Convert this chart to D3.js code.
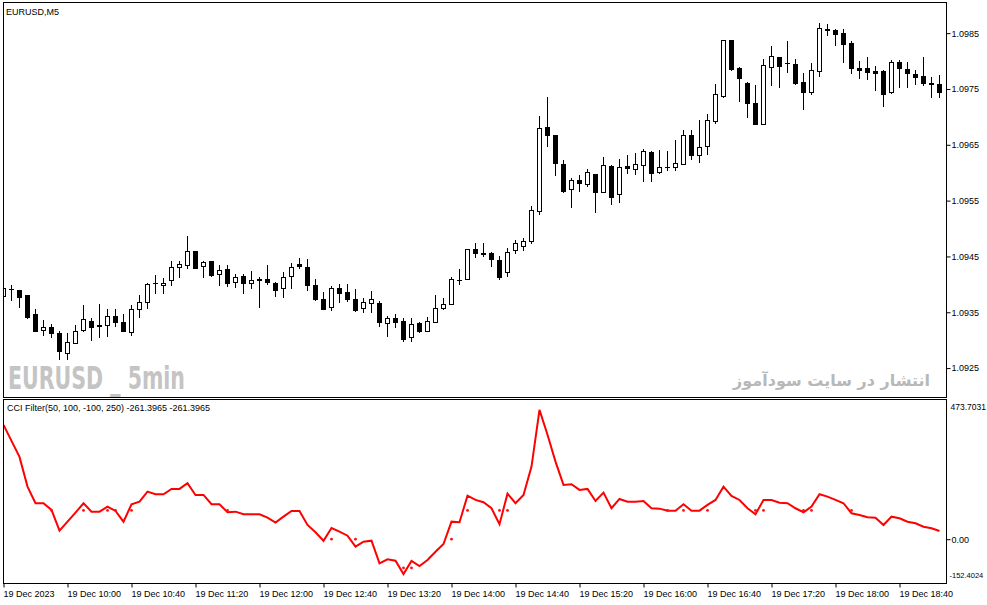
<!DOCTYPE html>
<html>
<head>
<meta charset="utf-8">
<script src="https://cdnjs.cloudflare.com/ajax/libs/d3/7.8.5/d3.min.js"></script>
<style>
  body { margin: 0; background: #fff; }
  svg text { font-family: Tahoma, "Liberation Sans", Arial, sans-serif; font-size: 9px; fill: #000; }
</style>
</head>
<body>
<div id="chart"></div>
<script>
/* EURUSD M5 candles with CCI Filter sub window */

// OHLC per 5 min bar, 19 Dec 2023 09:20 .. 19:05
const openP = [1.09380,1.09392,1.09390,1.09381,1.09346,1.09318,1.09324,1.09312,1.09277,1.09295,
  1.09319,1.09335,1.09327,1.09327,1.09344,1.09333,1.09314,1.09356,1.09369,1.09402,
  1.09399,1.09407,1.09431,1.09434,1.09460,1.09432,1.09442,1.09418,1.09428,1.09405,
  1.09415,1.09402,1.09410,1.09410,1.09403,1.09393,1.09415,1.09436,1.09431,1.09399,
  1.09374,1.09359,1.09394,1.09387,1.09374,1.09357,1.09366,1.09367,1.09331,1.09340,
  1.09335,1.09305,1.09331,1.09316,1.09333,1.09357,1.09365,1.09408,1.09409,1.09464,
  1.09457,1.09457,1.09444,1.09423,1.09462,1.09469,1.09478,1.09532,1.09682,1.09668,
  1.09616,1.09571,1.09587,1.09580,1.09598,1.09565,1.09612,1.09562,1.09612,1.09606,
  1.09613,1.09637,1.09602,1.09610,1.09611,1.09615,1.09668,1.09631,1.09647,1.09693,
  1.09738,1.09837,1.09787,1.09760,1.09725,1.09688,1.09790,1.09808,1.09797,1.09794,
  1.09763,1.09744,1.09783,1.09858,1.09856,1.09850,1.09833,1.09788,1.09787,1.09782,
  1.09783,1.09744,1.09799,1.09786,1.09777,1.09774,1.09761,1.09759];
const highP = [1.09405,1.09399,1.09390,1.09381,1.09356,1.09337,1.09329,1.09316,1.09312,1.09328,
  1.09363,1.09340,1.09365,1.09356,1.09356,1.09346,1.09363,1.09381,1.09402,1.09417,
  1.09411,1.09442,1.09442,1.09487,1.09460,1.09442,1.09442,1.09435,1.09435,1.09419,
  1.09419,1.09424,1.09414,1.09434,1.09405,1.09423,1.09438,1.09448,1.09446,1.09410,
  1.09387,1.09397,1.09401,1.09401,1.09392,1.09375,1.09388,1.09371,1.09344,1.09346,
  1.09340,1.09340,1.09332,1.09341,1.09381,1.09375,1.09413,1.09428,1.09463,1.09474,
  1.09474,1.09458,1.09451,1.09466,1.09480,1.09483,1.09541,1.09702,1.09735,1.09668,
  1.09623,1.09590,1.09596,1.09607,1.09598,1.09629,1.09614,1.09625,1.09632,1.09636,
  1.09642,1.09639,1.09641,1.09638,1.09659,1.09677,1.09677,1.09695,1.09705,1.09759,
  1.09838,1.09837,1.09790,1.09763,1.09757,1.09804,1.09827,1.09808,1.09836,1.09804,
  1.09778,1.09796,1.09868,1.09866,1.09857,1.09858,1.09836,1.09800,1.09807,1.09792,
  1.09784,1.09802,1.09802,1.09798,1.09784,1.09808,1.09772,1.09775];
const lowP = [1.09359,1.09372,1.09359,1.09340,1.09317,1.09310,1.09306,1.09266,1.09267,1.09295,
  1.09316,1.09301,1.09306,1.09307,1.09325,1.09316,1.09310,1.09342,1.09357,1.09384,
  1.09385,1.09399,1.09414,1.09430,1.09429,1.09413,1.09415,1.09399,1.09397,1.09396,
  1.09384,1.09393,1.09359,1.09400,1.09380,1.09378,1.09394,1.09430,1.09390,1.09372,
  1.09356,1.09354,1.09369,1.09371,1.09353,1.09350,1.09350,1.09326,1.09307,1.09323,
  1.09298,1.09299,1.09314,1.09316,1.09332,1.09356,1.09365,1.09401,1.09409,1.09449,
  1.09450,1.09432,1.09409,1.09415,1.09457,1.09462,1.09474,1.09526,1.09647,1.09596,
  1.09565,1.09539,1.09568,1.09577,1.09529,1.09565,1.09544,1.09548,1.09600,1.09598,
  1.09586,1.09586,1.09600,1.09605,1.09605,1.09615,1.09625,1.09620,1.09634,1.09689,
  1.09736,1.09784,1.09728,1.09699,1.09688,1.09688,1.09757,1.09753,1.09781,1.09759,
  1.09714,1.09741,1.09774,1.09846,1.09829,1.09798,1.09778,1.09770,1.09768,1.09749,
  1.09720,1.09742,1.09753,1.09753,1.09759,1.09757,1.09735,1.09735];
const closeP = [1.09393,1.09392,1.09378,1.09341,1.09317,1.09324,1.09312,1.09280,1.09297,1.09317,
  1.09338,1.09323,1.09325,1.09344,1.09332,1.09316,1.09356,1.09369,1.09401,1.09402,
  1.09403,1.09431,1.09436,1.09460,1.09430,1.09440,1.09416,1.09426,1.09403,1.09413,
  1.09403,1.09408,1.09407,1.09405,1.09390,1.09414,1.09431,1.09432,1.09398,1.09374,
  1.09356,1.09393,1.09384,1.09374,1.09354,1.09369,1.09374,1.09332,1.09340,1.09332,
  1.09302,1.09329,1.09317,1.09334,1.09357,1.09365,1.09409,1.09408,1.09463,1.09456,
  1.09454,1.09446,1.09414,1.09458,1.09474,1.09478,1.09534,1.09680,1.09667,1.09617,
  1.09568,1.09587,1.09581,1.09602,1.09565,1.09614,1.09556,1.09610,1.09609,1.09616,
  1.09639,1.09600,1.09610,1.09610,1.09617,1.09668,1.09631,1.09646,1.09695,1.09741,
  1.09837,1.09786,1.09769,1.09724,1.09688,1.09793,1.09809,1.09792,1.09796,1.09760,
  1.09744,1.09784,1.09859,1.09855,1.09849,1.09831,1.09787,1.09784,1.09781,1.09779,
  1.09741,1.09798,1.09787,1.09778,1.09772,1.09761,1.09759,1.09745];

// CCI Filter line, one value per bar
const cciVals = [397.6,341.9,286.2,182.8,125.0,125.0,101.7,29.6,60.9,92.3,
  125.0,95.8,95.8,113.2,98.2,60.9,121.5,130.6,165.4,156.3,
  156.3,174.8,174.8,194.6,153.9,153.9,121.5,121.5,93.7,95.8,
  86.7,86.7,86.7,74.9,57.5,78.3,98.2,98.2,49.4,24.0,
  -5.6,39.0,26.1,12.2,-26.1,-8.7,-5.2,-83.9,-70.0,-74.9,
  -121.2,-75.9,-93.3,-72.4,-43.5,-16.7,60.9,58.8,151.5,136.5,
  128.5,107.6,51.9,158.4,125.0,153.9,252.4,449.9,363.4,269.8,
  188.7,191.2,171.3,174.8,133.0,161.9,107.6,140.0,130.6,130.6,
  133.0,107.6,106.2,99.2,99.2,121.5,99.2,99.2,119.1,136.5,
  182.8,150.4,136.5,107.6,86.7,136.5,136.5,127.1,125.0,107.6,
  93.7,113.2,156.3,148.0,136.5,125.0,90.2,84.3,76.3,74.9,
  49.4,78.3,72.8,60.9,55.4,43.5,38.0,28.6];

// signal dots: bar index and the level they sit on
const dotBars = [6,10,13,14,16,28,41,44,50,51,56,58,62,63,83,85,88,94,95,100,101,106];
const dotLevels = [100,100,100,100,100,100,0,0,-100,-100,0,100,100,100,100,100,100,100,100,100,100,100];

const priceTicks = [1.0925, 1.0935, 1.0945, 1.0955, 1.0965, 1.0975, 1.0985];
const cciMin = -152.4024, cciMax = 473.7031;
const timeTickBars = [0,8,16,24,32,40,48,56,64,72,80,88,96,104,112];
const timeLabels = ["19 Dec 2023","19 Dec 10:00","19 Dec 10:40","19 Dec 11:20","19 Dec 12:00",
  "19 Dec 12:40","19 Dec 13:20","19 Dec 14:00","19 Dec 14:40","19 Dec 15:20","19 Dec 16:00",
  "19 Dec 16:40","19 Dec 17:20","19 Dec 18:00","19 Dec 18:40"];

const width = 987, height = 605,
      left = 3.5, right = 946.5,
      main = {top: 2.5, bottom: 397.5},
      sub = {top: 399.5, bottom: 583.5};

let svg = d3.select("#chart")
    .append("svg")
    .attr("width", width)
    .attr("height", height);

let defs = svg.append("defs");
defs.append("clipPath").attr("id", "mainClip")
    .append("rect").attr("x", 4).attr("y", 3).attr("width", right - 4).attr("height", main.bottom - 3);
defs.append("clipPath").attr("id", "subClip")
    .append("rect").attr("x", 4).attr("y", sub.top + 0.5).attr("width", right - 4).attr("height", sub.bottom - sub.top - 1);

let x = d3.scaleLinear()
    .domain([0, openP.length - 1])
    .range([3.5, 3.5 + 8 * (openP.length - 1)]); // 8px per bar

let y = d3.scaleLinear()
    .domain([1.0920, 1.09904])
    .range([396, 3]);

let yc = d3.scaleLinear()
    .domain([cciMin, cciMax])
    .range([583, 403]);

const candles = openP.map((o, i) => ({i: i, o: o, h: highP[i], l: lowP[i], c: closeP[i]}));
const py = v => Math.round(y(v));

// watermark texts
svg.append("text")
    .attr("x", 8).attr("y", 389)
    .attr("textLength", 177).attr("lengthAdjust", "spacingAndGlyphs")
    .style("font-family", "'Liberation Sans Narrow', 'DejaVu Sans Condensed', sans-serif")
    .style("font-weight", "bold").style("font-size", "32px").style("fill", "#c4c4c4")
    .text("EURUSD _ 5min");

svg.append("text")
    .attr("x", 930).attr("y", 386)
    .attr("text-anchor", "end")
    .style("font-family", "'DejaVu Sans', sans-serif")
    .style("font-weight", "bold")
    .style("font-size", "16px").style("fill", "#b8b8b8")
    .text("انتشار در سایت سودآموز");

// candles
let cg = svg.append("g").attr("clip-path", "url(#mainClip)");

cg.selectAll(".wick")
    .data(candles)
    .join("line")
    .attr("class", "wick")
    .attr("x1", d => x(d.i)).attr("x2", d => x(d.i))
    .attr("y1", d => py(d.h)).attr("y2", d => py(d.l) + 1)
    .attr("stroke", "#000");

cg.selectAll(".body")
    .data(candles.filter(d => py(d.o) !== py(d.c)))
    .join("rect")
    .attr("class", "body")
    .attr("x", d => x(d.i) - 2)
    .attr("y", d => py(Math.max(d.o, d.c)) + 0.5)
    .attr("width", 4)
    .attr("height", d => py(Math.min(d.o, d.c)) - py(Math.max(d.o, d.c)))
    .attr("fill", d => d.c > d.o ? "#fff" : "#000")
    .attr("stroke", "#000");

cg.selectAll(".doji")
    .data(candles.filter(d => py(d.o) === py(d.c)))
    .join("line")
    .attr("class", "doji")
    .attr("x1", d => x(d.i) - 2.5).attr("x2", d => x(d.i) + 2.5)
    .attr("y1", d => py(d.o) + 0.5).attr("y2", d => py(d.o) + 0.5)
    .attr("stroke", "#000");

// CCI line and dots
let sg = svg.append("g").attr("clip-path", "url(#subClip)");

sg.append("path")
    .datum(cciVals)
    .attr("fill", "none")
    .attr("stroke", "#ff0000")
    .attr("stroke-width", 2)
    .attr("d", d3.line().x((d, i) => x(i)).y(d => yc(d)));

sg.selectAll(".dot")
    .data(dotBars)
    .join("circle")
    .attr("class", "dot")
    .attr("cx", d => x(d))
    .attr("cy", (d, k) => yc(dotLevels[k]))
    .attr("r", 1.4)
    .attr("fill", "#ff1010");

// frames
[main, sub].forEach(p => {
    svg.append("rect")
        .attr("x", left).attr("y", p.top)
        .attr("width", right - left).attr("height", p.bottom - p.top)
        .attr("fill", "none").attr("stroke", "#000");
});

// price axis
svg.append("g")
    .attr("transform", `translate(${right},0)`)
    .call(d3.axisRight(y).tickValues(priceTicks).tickSize(4).tickPadding(1).tickFormat(d3.format(".4f")))
    .call(g => g.select(".domain").remove())
    .call(g => g.selectAll("text").attr("font-family", null).attr("font-size", null));

// CCI axis: zero tick plus pane max/min labels
svg.append("g")
    .attr("transform", `translate(${right},0)`)
    .call(d3.axisRight(yc).tickValues([0]).tickSize(4).tickPadding(1).tickFormat(d3.format(".2f")))
    .call(g => g.select(".domain").remove())
    .call(g => g.selectAll("text").attr("font-family", null).attr("font-size", null));

svg.append("text").attr("x", right + 4).attr("y", 407).attr("dy", "0.32em")
    .style("font-size", "8.5px")
    .text(cciMax.toFixed(4));
svg.append("text").attr("x", right + 3).attr("y", 576).attr("dy", "0.32em")
    .style("font-size", "7.5px")
    .text(cciMin.toFixed(4));

// time axis
svg.append("g")
    .attr("transform", `translate(0,${sub.bottom})`)
    .call(d3.axisBottom(x).tickValues(timeTickBars).tickSize(4).tickFormat((d, k) => timeLabels[k]))
    .call(g => g.select(".domain").remove())
    .call(g => g.selectAll("text").attr("text-anchor", "start").attr("dx", "-0.5")
        .attr("font-family", null).attr("font-size", null));

// window titles
svg.append("text").attr("x", 6).attr("y", 15).text("EURUSD,M5");
svg.append("text").attr("x", 7).attr("y", 411).text("CCI Filter(50, 100, -100, 250) -261.3965 -261.3965");
</script>
</body>
</html>
